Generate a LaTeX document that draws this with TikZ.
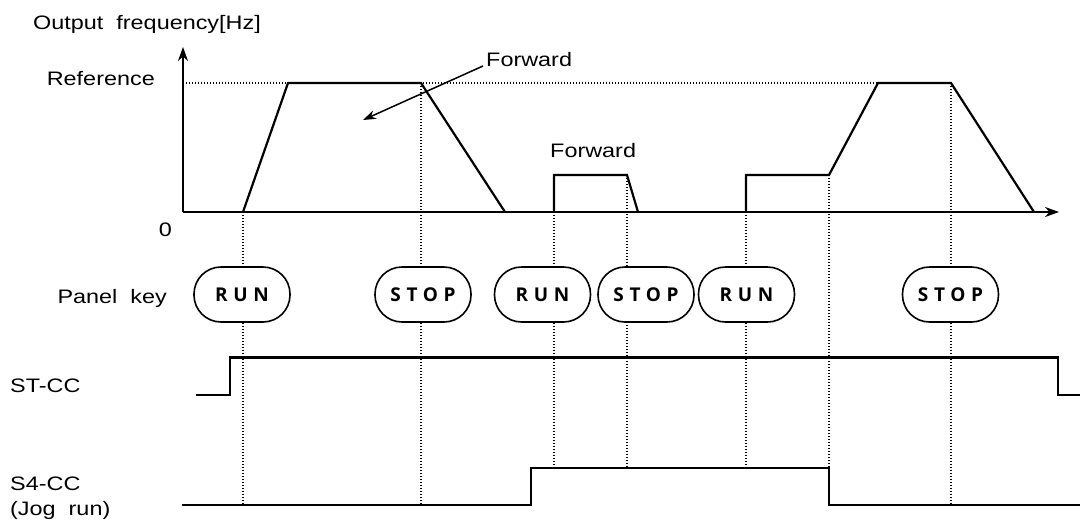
\documentclass[tikz,border=0pt]{standalone}
\usepackage{fontspec}
\setmainfont{Liberation Sans}[FakeStretch=1.2]
\newfontfamily\keyfont{Open Sans}[LetterSpace=30]
\usepackage{tikz}
\usetikzlibrary{arrows.meta,positioning}
\definecolor{chartline}{RGB}{0,0,0}

\begin{document}
\begin{tikzpicture}[x=1pt, y=-1pt, font=\fontsize{19.5}{22}\selectfont,
    sigline/.style={draw=chartline, line width=2.2pt},
    guide/.style={draw=chartline, line width=1.2pt, dash pattern=on 1.2pt off 1.8pt},
    keybox/.style={draw=chartline, line width=1.6pt, fill=white, rounded corners=27pt,
      minimum width=96pt, minimum height=55pt, inner sep=0pt,
      font=\keyfont\bfseries\fontsize{19}{22}\selectfont},
    lbl/.style={inner sep=0pt}]
    \useasboundingbox (0,0) rectangle (1080,528);
    % guide lines
    \foreach \gx/\gtop/\gbot in {243/212/505, 421/83/505, 554/212/468, 627/175/468,
        746/212/468, 829/175/468, 951/83/505}
      \draw[guide] (\gx,\gtop) -- (\gx,\gbot);
    \draw[guide] (183,83) -- (878,83);
    % axes
    \coordinate (origin) at (183,212);
    \coordinate (ytop) at (183,47);
    \coordinate (xend) at (1059,212);
    \draw[sigline, -{Stealth[length=14pt,width=10pt]}] (origin) -- (ytop);
    \draw[sigline, -{Stealth[length=14pt,width=10pt]}] (origin) -- (xend);
    % output frequency
    \draw[sigline] (243,212) -- (288,83) -- (421,83) -- (505,212);
    \draw[sigline] (554,212) -- (554,175) -- (627,175) -- (638,212);
    \draw[sigline] (746,212) -- (746,175) -- (829,175) -- (878,83) -- (951,83) -- (1034,212);
    \node[lbl, anchor=base west] (ylabel) at (33,29) {Output\ \ frequency[Hz]};
    \node[lbl, anchor=base east] (reflabel) at (155,85) {Reference};
    \node[lbl, anchor=base east] (zerolabel) at (172,236) {0};
    \node[lbl, anchor=base west] (fwdA) at (486,66) {Forward};
    \node[lbl, anchor=base west] (fwdB) at (550,157) {Forward};
    \coordinate (fwdtip) at (363,120);
    \draw[line width=1.5pt, -{Stealth[length=13pt,width=9pt]}] ([xshift=-3pt]fwdA.base west) -- (fwdtip);
    % panel keys
    \node[lbl, anchor=base east] (panellabel) at (167,303) {Panel\ \ key};
    \foreach \kx/\kname/\ktext in {242/runA/RUN, 423/stopA/STOP, 542.5/runB/RUN,
        646/stopB/STOP, 746.5/runC/RUN, 950.5/stopC/STOP}
      \node[keybox] (\kname) at (\kx,294.5) {\ktext};
    % terminal signals
    \node[lbl, anchor=base west] (stlabel) at (10,392) {ST-CC};
    \draw[sigline] (196,395) -- (230,395) -- (230,357.5) -- (1058,357.5) -- (1058,395) -- (1080,395);
    \node[lbl, anchor=base west] (s4label) at (10,490) {S4-CC};
    \node[lbl, anchor=base west] (joglabel) at (10,515) {(Jog\ \ run)};
    \draw[sigline] (182,505) -- (531,505) -- (531,468) -- (829,468) -- (829,505) -- (1080,505);
  \end{tikzpicture}
\end{document}
